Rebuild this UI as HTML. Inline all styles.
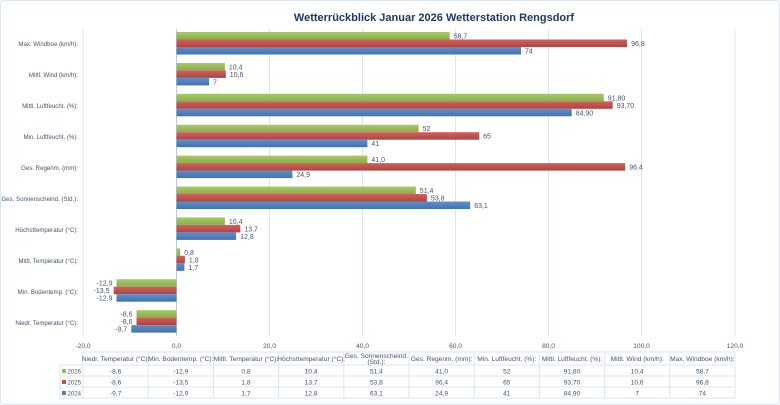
<!DOCTYPE html>
<html><head><meta charset="utf-8"><style>
body{margin:0;background:#fff}
svg{display:block;font-family:"Liberation Sans",sans-serif}
.l{font-size:6.1px;fill:#44546a}
.c{font-size:6.6px;fill:#44546a;text-anchor:middle}
.v{font-size:7px;fill:#44546a}
</style></head><body>
<svg width="780" height="405" viewBox="0 0 780 405">
<defs>
<linearGradient id="g" x1="0" y1="0" x2="0" y2="1"><stop offset="0" stop-color="#a9c96a"/><stop offset="1" stop-color="#8cad4b"/></linearGradient>
<linearGradient id="r" x1="0" y1="0" x2="0" y2="1"><stop offset="0" stop-color="#d0615e"/><stop offset="1" stop-color="#b04440"/></linearGradient>
<linearGradient id="b" x1="0" y1="0" x2="0" y2="1"><stop offset="0" stop-color="#5f90cc"/><stop offset="1" stop-color="#4372ae"/></linearGradient>
</defs>
<rect x="0.5" y="0.5" width="779" height="404" rx="3" fill="#fff" stroke="#dce6f2"/>
<text x="434" y="21" text-anchor="middle" font-size="11" font-weight="bold" fill="#1f3864">Wetterrückblick Januar 2026 Wetterstation Rengsdorf</text>
<g stroke="#dce6f2" stroke-width="1">
<line x1="83" y1="29" x2="83" y2="336"/><line x1="269.5" y1="29" x2="269.5" y2="336"/><line x1="362.5" y1="29" x2="362.5" y2="336"/><line x1="455.5" y1="29" x2="455.5" y2="336"/><line x1="548.5" y1="29" x2="548.5" y2="336"/><line x1="641.5" y1="29" x2="641.5" y2="336"/><line x1="735" y1="29" x2="735" y2="336"/>
</g>
<line x1="176.5" y1="29" x2="176.5" y2="336" stroke="#b8cce4"/>
<g class="l" text-anchor="end">
<text x="78" y="46">Max. Windboe (km/h):</text>
<text x="78" y="77">Mittl. Wind (km/h):</text>
<text x="78" y="108">Mittl. Luftfeucht. (%):</text>
<text x="78" y="139">Min. Luftfeucht. (%):</text>
<text x="78" y="170">Ges. Regenm. (mm):</text>
<text x="78" y="201">Ges. Sonnenscheind. (Std.):</text>
<text x="78" y="232">Höchsttemperatur (°C):</text>
<text x="78" y="263">Mittl. Temperatur (°C):</text>
<text x="78" y="294">Min. Bodentemp. (°C):</text>
<text x="78" y="325">Niedr. Temperatur (°C):</text>
</g>
<g class="v">
<g transform="translate(0,43.5)"><rect x="176.5" y="-11.5" width="273.2" height="7.5" fill="url(#g)"/><rect x="176.5" y="-4" width="450.6" height="7.5" fill="url(#r)"/><rect x="176.5" y="3.5" width="344.5" height="7.5" fill="url(#b)"/><text x="453.7" y="-5">58,7</text><text x="631.1" y="2.5">96,8</text><text x="525" y="10">74</text></g>
<g transform="translate(0,74.4)"><rect x="176.5" y="-11.5" width="48.4" height="7.5" fill="url(#g)"/><rect x="176.5" y="-4" width="49.3" height="7.5" fill="url(#r)"/><rect x="176.5" y="3.5" width="32.6" height="7.5" fill="url(#b)"/><text x="228.9" y="-5">10,4</text><text x="229.8" y="2.5">10,6</text><text x="213.1" y="10">7</text></g>
<g transform="translate(0,105.3)"><rect x="176.5" y="-11.5" width="427.3" height="7.5" fill="url(#g)"/><rect x="176.5" y="-4" width="436.2" height="7.5" fill="url(#r)"/><rect x="176.5" y="3.5" width="395.2" height="7.5" fill="url(#b)"/><text x="607.8" y="-5">91,80</text><text x="616.7" y="2.5">93,70</text><text x="575.7" y="10">84,90</text></g>
<g transform="translate(0,136.2)"><rect x="176.5" y="-11.5" width="242.1" height="7.5" fill="url(#g)"/><rect x="176.5" y="-4" width="302.6" height="7.5" fill="url(#r)"/><rect x="176.5" y="3.5" width="190.9" height="7.5" fill="url(#b)"/><text x="422.6" y="-5">52</text><text x="483.1" y="2.5">65</text><text x="371.4" y="10">41</text></g>
<g transform="translate(0,167.1)"><rect x="176.5" y="-11.5" width="190.9" height="7.5" fill="url(#g)"/><rect x="176.5" y="-4" width="448.7" height="7.5" fill="url(#r)"/><rect x="176.5" y="3.5" width="115.9" height="7.5" fill="url(#b)"/><text x="371.4" y="-5">41,0</text><text x="629.2" y="2.5">96,4</text><text x="296.4" y="10">24,9</text></g>
<g transform="translate(0,198)"><rect x="176.5" y="-11.5" width="239.3" height="7.5" fill="url(#g)"/><rect x="176.5" y="-4" width="250.4" height="7.5" fill="url(#r)"/><rect x="176.5" y="3.5" width="293.7" height="7.5" fill="url(#b)"/><text x="419.8" y="-5">51,4</text><text x="430.9" y="2.5">53,8</text><text x="474.2" y="10">63,1</text></g>
<g transform="translate(0,228.9)"><rect x="176.5" y="-11.5" width="48.4" height="7.5" fill="url(#g)"/><rect x="176.5" y="-4" width="63.8" height="7.5" fill="url(#r)"/><rect x="176.5" y="3.5" width="59.6" height="7.5" fill="url(#b)"/><text x="228.9" y="-5">10,4</text><text x="244.3" y="2.5">13,7</text><text x="240.1" y="10">12,8</text></g>
<g transform="translate(0,259.8)"><rect x="176.5" y="-11.5" width="3.7" height="7.5" fill="url(#g)"/><rect x="176.5" y="-4" width="8.4" height="7.5" fill="url(#r)"/><rect x="176.5" y="3.5" width="7.9" height="7.5" fill="url(#b)"/><text x="184.2" y="-5">0,8</text><text x="188.9" y="2.5">1,8</text><text x="188.4" y="10">1,7</text></g>
<g transform="translate(0,290.7)"><rect x="116.5" y="-11.5" width="60" height="7.5" fill="url(#g)"/><rect x="113.7" y="-4" width="62.8" height="7.5" fill="url(#r)"/><rect x="116.5" y="3.5" width="60" height="7.5" fill="url(#b)"/><text x="112.5" y="-5" text-anchor="end">-12,9</text><text x="109.5" y="2.5" text-anchor="end">-13,5</text><text x="112.5" y="10" text-anchor="end">-12,9</text></g>
<g transform="translate(0,321.6)"><rect x="136.5" y="-11.5" width="40" height="7.5" fill="url(#g)"/><rect x="136.5" y="-4" width="40" height="7.5" fill="url(#r)"/><rect x="131.3" y="3.5" width="45.2" height="7.5" fill="url(#b)"/><text x="132.5" y="-5" text-anchor="end">-8,6</text><text x="132.5" y="2.5" text-anchor="end">-8,6</text><text x="127.3" y="10" text-anchor="end">-9,7</text></g>
</g>
<g class="c">
<text x="83" y="348">-20,0</text><text x="176.5" y="348">0,0</text><text x="269.5" y="348">20,0</text><text x="362.5" y="348">40,0</text><text x="455.5" y="348">60,0</text><text x="548.5" y="348">80,0</text><text x="641.5" y="348">100,0</text><text x="735" y="348">120,0</text>
</g>
<g stroke="#dce6f2" fill="none">
<rect x="83" y="352" width="652" height="46"/>
<rect x="60" y="365" width="23" height="33"/>
<line x1="60" y1="376" x2="735" y2="376"/><line x1="60" y1="387" x2="735" y2="387"/><line x1="83" y1="365" x2="735" y2="365"/>
<line x1="148.2" y1="352" x2="148.2" y2="398"/><line x1="213.4" y1="352" x2="213.4" y2="398"/><line x1="278.6" y1="352" x2="278.6" y2="398"/><line x1="343.8" y1="352" x2="343.8" y2="398"/><line x1="409" y1="352" x2="409" y2="398"/><line x1="474.2" y1="352" x2="474.2" y2="398"/><line x1="539.4" y1="352" x2="539.4" y2="398"/><line x1="604.6" y1="352" x2="604.6" y2="398"/><line x1="669.8" y1="352" x2="669.8" y2="398"/>
</g>
<g class="c" font-size="6">
<text x="115.6" y="361">Niedr. Temperatur (°C):</text><text x="180.8" y="361">Min. Bodentemp. (°C):</text><text x="246" y="361">Mittl. Temperatur (°C):</text><text x="311.2" y="361">Höchsttemperatur (°C):</text><text x="376.4" y="358">Ges. Sonnenscheind.</text><text x="376.4" y="364">(Std.):</text><text x="441.6" y="361">Ges. Regenm. (mm):</text><text x="506.8" y="361">Min. Luftfeucht. (%):</text><text x="572" y="361">Mittl. Luftfeucht. (%):</text><text x="637.2" y="361">Mittl. Wind (km/h):</text><text x="702.4" y="361">Max. Windboe (km/h):</text>
</g>
<rect x="62" y="369" width="4" height="4" fill="#9bbb59"/><rect x="62" y="380" width="4" height="4" fill="#c0504d"/><rect x="62" y="391" width="4" height="4" fill="#4f81bd"/>
<g class="l"><text x="67.5" y="373.5">2026</text><text x="67.5" y="384.5">2025</text><text x="67.5" y="395.5">2024</text></g>
<g class="c">
<text x="115.6" y="373.5">-8,6</text><text x="180.8" y="373.5">-12,9</text><text x="246" y="373.5">0,8</text><text x="311.2" y="373.5">10,4</text><text x="376.4" y="373.5">51,4</text><text x="441.6" y="373.5">41,0</text><text x="506.8" y="373.5">52</text><text x="572" y="373.5">91,80</text><text x="637.2" y="373.5">10,4</text><text x="702.4" y="373.5">58,7</text>
<text x="115.6" y="384.5">-8,6</text><text x="180.8" y="384.5">-13,5</text><text x="246" y="384.5">1,8</text><text x="311.2" y="384.5">13,7</text><text x="376.4" y="384.5">53,8</text><text x="441.6" y="384.5">96,4</text><text x="506.8" y="384.5">65</text><text x="572" y="384.5">93,70</text><text x="637.2" y="384.5">10,6</text><text x="702.4" y="384.5">96,8</text>
<text x="115.6" y="395.5">-9,7</text><text x="180.8" y="395.5">-12,9</text><text x="246" y="395.5">1,7</text><text x="311.2" y="395.5">12,8</text><text x="376.4" y="395.5">63,1</text><text x="441.6" y="395.5">24,9</text><text x="506.8" y="395.5">41</text><text x="572" y="395.5">84,90</text><text x="637.2" y="395.5">7</text><text x="702.4" y="395.5">74</text>
</g>
</svg>
</body></html>
